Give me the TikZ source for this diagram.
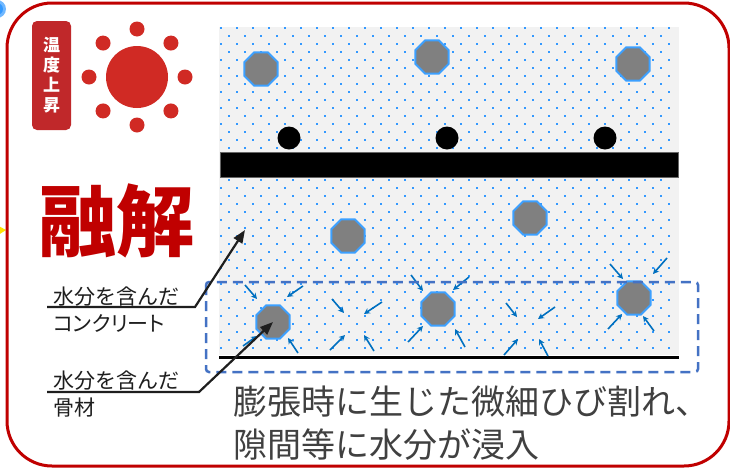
\documentclass[tikz,border=0pt]{standalone}
\usepackage{fontspec}
\setmainfont{Noto Sans CJK JP}
\usetikzlibrary{shapes.geometric,arrows.meta}

\definecolor{framered}{RGB}{192,0,0}
\definecolor{sunred}{RGB}{208,42,36}
\definecolor{tagred}{RGB}{192,40,42}
\definecolor{concrete}{RGB}{242,242,242}
\definecolor{dotblue}{RGB}{51,153,255}
\definecolor{aggfill}{RGB}{128,128,128}
\definecolor{aggedge}{RGB}{60,160,255}
\definecolor{flowblue}{RGB}{0,112,192}
\definecolor{dashblue}{RGB}{68,114,196}
\definecolor{ink}{RGB}{30,30,30}

\tikzset{
  agg/.style={regular polygon, regular polygon sides=8, minimum size=36pt,
    inner sep=0pt, fill=aggfill, draw=aggedge, line width=2pt},
  rebar/.style={circle, fill=black, minimum size=23pt, inner sep=0pt},
  flow/.style={flowblue, line width=1.6pt, -{Stealth[length=6pt,width=6pt]}},
  callout/.style={ink, line width=2.2pt, line join=miter, -{Triangle[length=13pt,width=10pt]}},
  lbl/.style={anchor=west, inner sep=0pt, text=ink, font=\fontsize{21}{24}\selectfont},
  caption/.style={anchor=west, inner sep=0pt, text=ink!85, font=\fontsize{34}{38}\selectfont},
}

\begin{document}
\begin{tikzpicture}[x=1pt,y=-1pt]
\useasboundingbox (0,0) rectangle (730,469);
\fill[white] (0,0) rectangle (730,469);

% neighbouring marks at the left edge
\fill[dotblue!70] (-3,9) circle (9pt);
\fill[dotblue] (-3,9) circle (6pt);
\fill[yellow!85!orange] (-5,224) -- (6,230) -- (-5,237) -- cycle;

% outer frame
\draw[framered, line width=3pt, rounded corners=45pt] (7,3) rectangle (729,466);

% temperature tag and sun
\node[fill=tagred, rounded corners=5pt, minimum width=39pt, minimum height=109pt,
      inner sep=0pt, text=white, align=center,
      font=\fontsize{17}{20}\selectfont\bfseries] (temp) at (51.5,75.5) {温\\度\\上\\昇};
\fill[sunred] (137,77) circle (31pt);
\foreach \a in {0,45,...,315}
  \fill[sunred] (137,77) ++(\a:48) circle (7.5pt);

% melting label
\node[text=framered, inner sep=0pt, font=\fontsize{78}{80}\selectfont\bfseries]
  (melt) at (116,221) {融解};

% concrete body with dotted texture
\fill[concrete] (219,27) rectangle (679,355);
\foreach \r in {0,...,40}{
  \pgfmathtruncatemacro\off{mod(\r,2)*8}
  \foreach \c in {0,...,28}{
    \pgfmathsetmacro\xx{221+16*\c+\off}
    \ifdim\xx pt<677pt
      \fill[dotblue] (\xx-1,30+8*\r-1) rectangle ++(2.2,-2.2);
    \fi
  }
}

% reinforcement bar and rebars
\fill[black] (220,152) rectangle (678,177);
\draw[black!60, line width=0.6pt] (220,152) rectangle (678,177);
\node[rebar] (r1) at (289,138) {};
\node[rebar] (r2) at (447,138) {};
\node[rebar] (r3) at (605,138) {};

% aggregates
\node[agg] (a1) at (261,69) {};
\node[agg] (a2) at (432,57) {};
\node[agg] (a3) at (633,64) {};
\node[agg] (m1) at (348,236) {};
\node[agg] (m2) at (530,218) {};
\node[agg] (b1) at (273,322) {};
\node[agg] (b2) at (438,309) {};
\node[agg] (b3) at (634,298) {};

% bottom face
\draw[black, line width=3pt] (219,357) -- (679,357);

% water ingress arrows
\foreach \sx/\sy/\ex/\ey in {
  245/285/257/299, 303/286/287/297, 298/353/288/338, 243/346/257/336,
  332/299/344/313, 382/302/364/314, 330/350/345/335, 374/351/364/335,
  411/275/423/291, 469/277/453/290, 408/342/423/326, 465/347/455/329,
  506/303/517/317, 555/307/538/319, 504/355/518/339, 548/356/539/339,
  610/264/623/279, 667/258/653/274, 608/329/622/314, 654/331/643/316}
  \draw[flow] (\sx,\sy) -- (\ex,\ey);

% wet zone
\draw[dashblue, line width=2.5pt, dash pattern=on 10pt off 6pt, rounded corners=3pt]
  (206,282) rectangle (698,372);

% callouts
\node[lbl] (l1a) at (53,297) {水分を含んだ};
\node[lbl] (l1b) at (53,323) {\addfontfeatures{RawFeature=+palt}コンクリート};
\node[lbl] (l2a) at (53,381) {水分を含んだ};
\node[lbl] (l2b) at (53,408) {骨材};
\coordinate (u1s) at (47,307);
\coordinate (u1k) at (195,307);
\coordinate (t1) at (245,230);
\coordinate (u2s) at (47,392);
\coordinate (u2k) at (199,392);
\draw[callout] (u1s) -- (u1k) -- (t1);
\draw[callout] (u2s) -- (u2k) -- (b1.center);

% description
\node[caption] (cap1) at (233,402) {膨張時に生じた微細ひび割れ、};
\node[caption] (cap2) at (233,445) {隙間等に水分が浸入};
\end{tikzpicture}
\end{document}
